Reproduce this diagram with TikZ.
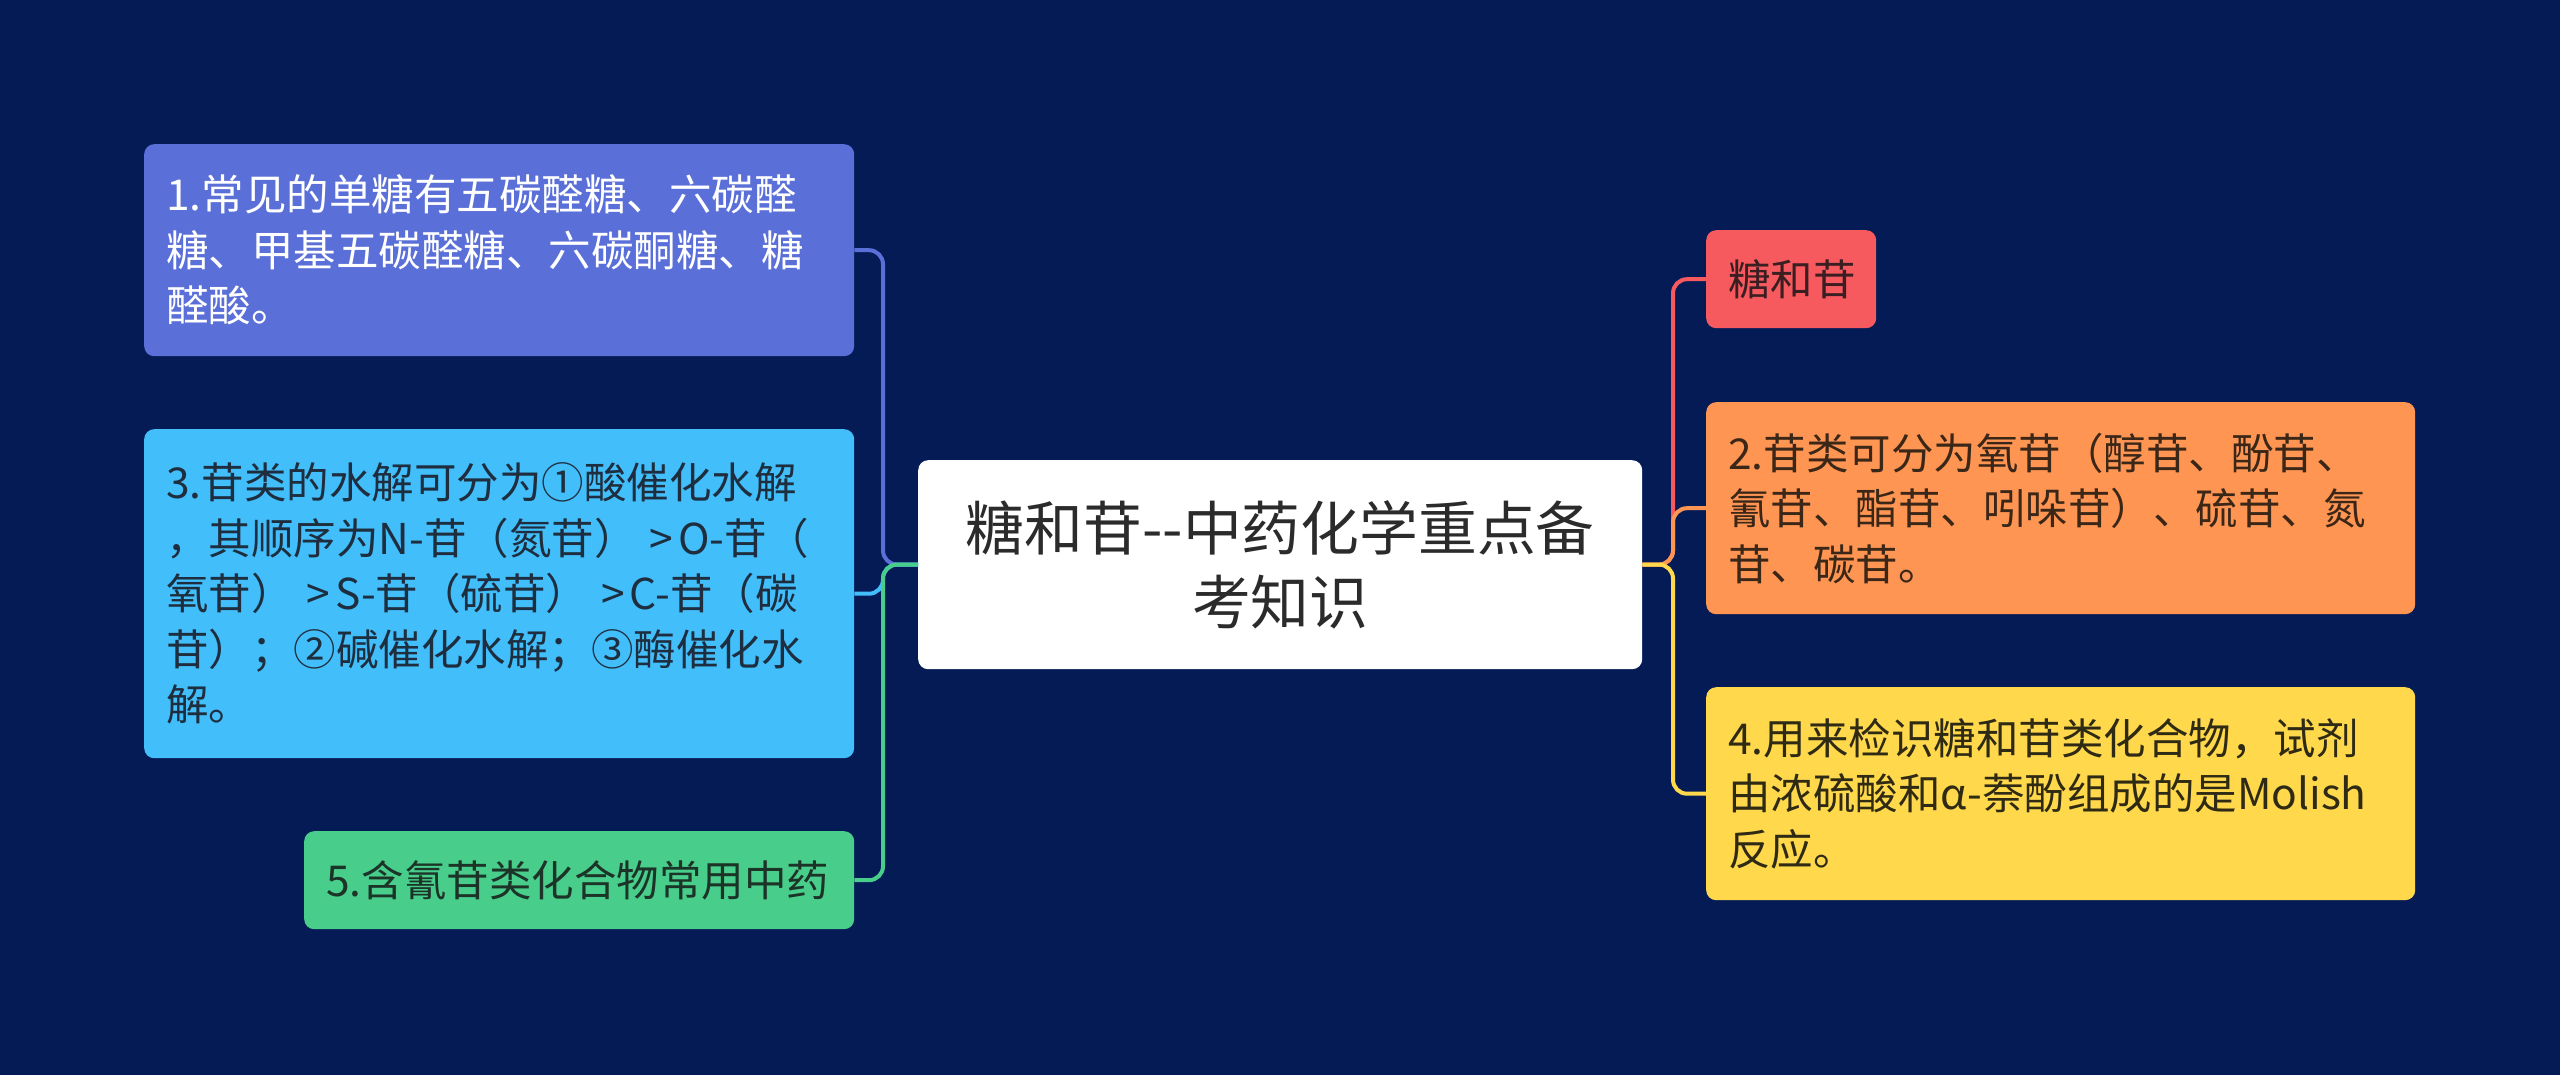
\documentclass[tikz,border=0pt]{standalone}
\usepackage{fontspec}
\setmainfont{Noto Sans CJK SC}
\definecolor{bg}{HTML}{051B56}
\definecolor{cA}{HTML}{5A6FD8}
\definecolor{cB}{HTML}{42BEFB}
\definecolor{cC}{HTML}{48CD8B}
\definecolor{cR}{HTML}{F65A5E}
\definecolor{cO}{HTML}{FF9553}
\definecolor{cY}{HTML}{FFD84C}
\definecolor{tdark}{HTML}{2B2B2B}
\definecolor{tB}{HTML}{1E2E3E}
\definecolor{tC}{HTML}{1C3328}
\definecolor{tR}{HTML}{3A1E22}
\definecolor{tO}{HTML}{3B2718}
\definecolor{tY}{HTML}{2E2A14}
\newcommand{\gtsym}{\hspace{0.3em}>\hspace{0.12em}}
\begin{document}
\begin{tikzpicture}[x=1pt,y=-1pt,
  box/.style={rectangle, rounded corners=10pt, inner xsep=22pt, inner ysep=0pt, align=left, anchor=north west, font=\fontsize{42.5}{55.5}\selectfont},
  conn/.style={line width=4pt, rounded corners=14pt}]
\fill[bg] (0,0) rectangle (2560,1075);
\useasboundingbox (0,0) rectangle (2560,1075);
% center
\node[box, fill=white, text=tdark, align=center, minimum width=724pt, minimum height=209pt, text width=680pt, font=\fontsize{58.8}{73.5}\selectfont] (c) at (918,460) {糖和苷-{}-中药化学重点备\\考知识};
% left
\node[box, fill=cA, text=white, minimum width=710pt, minimum height=212pt, text width=666pt] (n1) at (144,144) {1.常见的单糖有五碳醛糖、六碳醛\\糖、甲基五碳醛糖、六碳酮糖、糖\\醛酸。};
\node[box, fill=cB, text=tB, minimum width=710pt, minimum height=329pt, text width=666pt] (n3) at (144,429) {3.苷类的水解可分为①酸催化水解\\，其顺序为N-苷（氮苷）\gtsym O-苷（\\氧苷）\gtsym S-苷（硫苷）\gtsym C-苷（碳\\苷）；②碱催化水解；③酶催化水\\解。};
\node[box, fill=cC, text=tC, minimum width=550pt, minimum height=98pt, text width=506pt] (n5) at (304,831) {5.含氰苷类化合物常用中药};
% right
\node[box, fill=cR, text=tR, minimum width=170pt, minimum height=98pt, text width=126pt] (r1) at (1706,230) {糖和苷};
\node[box, fill=cO, text=tO, minimum width=709pt, minimum height=212pt, text width=665pt] (n2) at (1706,402) {2.苷类可分为氧苷（醇苷、酚苷、\\氰苷、酯苷、吲哚苷）、硫苷、氮\\苷、碳苷。};
\node[box, fill=cY, text=tY, minimum width=709pt, minimum height=213pt, text width=665pt] (n4) at (1706,687) {4.用来检识糖和苷类化合物，试剂\\由浓硫酸和α-萘酚组成的是Molish\\反应。};
% junctions
\coordinate (lj) at (883,564.5);
\coordinate (rj) at (1673,564.5);
\draw[conn, cA] (c.west) -- (lj) |- (n1.east);
\draw[conn, cB] (c.west) -- (lj) |- (n3.east);
\draw[conn, cC] (c.west) -- (lj) |- (n5.east);
\draw[conn, cR] (c.east) -- (rj) |- (r1.west);
\draw[conn, cO] (c.east) -- (rj) |- (n2.west);
\draw[conn, cY] (c.east) -- (rj) |- (n4.west);
\end{tikzpicture}
\end{document}
